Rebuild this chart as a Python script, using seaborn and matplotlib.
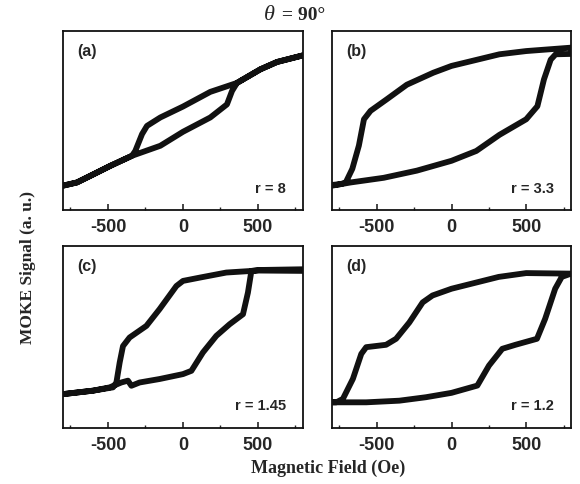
import numpy as np
import pandas as pd
import matplotlib
matplotlib.use('Agg')
import matplotlib.pyplot as plt
import seaborn as sns

# ---- data (field in Oe, signal normalised to panel height) ----
a_up_x = [-800, -707, -596, -484, -340, -151, 0, 182, 293, 327, 360, 516, 627, 800]
a_up_y = [0.136, 0.154, 0.2, 0.247, 0.303, 0.359, 0.437, 0.517, 0.59, 0.665, 0.71, 0.786, 0.827, 0.864]
a_dn_x = [800, 627, 516, 360, 182, 0, -151, -240, -273, -318, -340, -484, -596, -707, -800]
a_dn_y = [0.864, 0.827, 0.786, 0.71, 0.66, 0.578, 0.517, 0.47, 0.424, 0.33, 0.303, 0.247, 0.2, 0.154, 0.136]

b_up_x = [-800, -675, -454, -232, 0, 166, 321, 500, 575, 619, 664, 697, 800]
b_up_y = [0.136, 0.154, 0.18, 0.22, 0.275, 0.33, 0.42, 0.507, 0.58, 0.73, 0.84, 0.87, 0.872]
b_dn_x = [800, 500, 321, 0, -122, -299, -431, -542, -586, -620, -664, -708, -741, -800]
b_dn_y = [0.907, 0.888, 0.87, 0.805, 0.767, 0.70, 0.62, 0.554, 0.507, 0.36, 0.23, 0.154, 0.145, 0.14]

c_up_x = [-800, -600, -489, -411, -367, -344, -289, -156, 0, 56, 133, 222, 311, 400, 433, 456, 511, 800]
c_up_y = [0.186, 0.205, 0.223, 0.25, 0.26, 0.232, 0.25, 0.269, 0.296, 0.314, 0.415, 0.506, 0.57, 0.625, 0.744, 0.863, 0.868, 0.872]
c_dn_x = [800, 500, 289, 111, 0, -44, -156, -244, -356, -400, -422, -444, -467, -600, -800]
c_dn_y = [0.863, 0.865, 0.854, 0.826, 0.808, 0.78, 0.653, 0.561, 0.497, 0.45, 0.36, 0.25, 0.223, 0.205, 0.186]

d_up_x = [-800, -571, -349, -171, 0, 173, 251, 340, 428, 572, 627, 694, 738, 800]
d_up_y = [0.141, 0.141, 0.15, 0.169, 0.193, 0.233, 0.343, 0.435, 0.457, 0.49, 0.6, 0.765, 0.83, 0.848]
d_dn_x = [800, 500, 316, 0, -127, -193, -282, -371, -438, -571, -604, -660, -727, -771, -800]
d_dn_y = [0.848, 0.851, 0.83, 0.765, 0.728, 0.69, 0.58, 0.49, 0.457, 0.444, 0.407, 0.27, 0.16, 0.141, 0.141]

panel_labels = ['(a)', '(b)', '(c)', '(d)']
r_labels = ['r = 8', 'r = 3.3', 'r = 1.45', 'r = 1.2']
xticks = [-500, 0, 500]
minor_xticks = [-750, -250, 250, 750]

sns.set_style('white')
plt.rcParams['font.family'] = ['Liberation Sans', 'DejaVu Sans']
plt.rcParams['font.weight'] = 'bold'

fig = plt.figure(figsize=(5.8, 4.85), dpi=100)

# axes boxes in figure fractions
boxes = [
    [0.1086, 0.5649, 0.4138, 0.3691],
    [0.5724, 0.5649, 0.4121, 0.3691],
    [0.1086, 0.1155, 0.4138, 0.3753],
    [0.5724, 0.1155, 0.4121, 0.3753],
]
loops = [
    (a_up_x, a_up_y, a_dn_x, a_dn_y),
    (b_up_x, b_up_y, b_dn_x, b_dn_y),
    (c_up_x, c_up_y, c_dn_x, c_dn_y),
    (d_up_x, d_up_y, d_dn_x, d_dn_y),
]

for i, (box, loop) in enumerate(zip(boxes, loops)):
    ax = fig.add_axes(box)
    ux, uy, dx, dy = loop
    df = pd.DataFrame({'H': list(ux) + list(dx), 'M': list(uy) + list(dy)})
    sns.lineplot(data=df, x='H', y='M', sort=False, estimator=None, ax=ax,
                 color='#111111', linewidth=4.2, solid_joinstyle='round',
                 solid_capstyle='round')
    ax.set_xlim(-800, 800)
    ax.set_ylim(0, 1)
    ax.set_xlabel('')
    ax.set_ylabel('')
    ax.set_yticks([])
    ax.set_xticks(xticks)
    ax.set_xticks(minor_xticks, minor=True)
    ax.set_xticklabels(['-500', '0', '500'], fontsize=13, fontweight='bold')
    ax.tick_params(axis='x', which='major', direction='in', length=4, width=1.2,
                   pad=6, bottom=True, top=False)
    ax.tick_params(axis='x', which='minor', direction='in', length=2.5, width=1.0,
                   bottom=True, top=False)
    for sp in ax.spines.values():
        sp.set_linewidth(1.3)
        sp.set_color('#111111')
    ax.text(0.06, 0.89, panel_labels[i], transform=ax.transAxes, fontsize=11.5,
            fontweight='bold', ha='left', va='center')
    ax.text(0.93, 0.125, r_labels[i], transform=ax.transAxes, fontsize=10.5,
            fontweight='bold', ha='right', va='center')

serif = ['Liberation Serif', 'DejaVu Serif']
fig.text(0.474, 0.968, 'θ', fontsize=16, ha='right', va='center', family=serif,
         style='italic', fontweight='normal')
fig.text(0.478, 0.968, ' = 90°', fontsize=14, ha='left', va='center',
         family=serif, fontweight='bold')
fig.text(0.048, 0.448, 'MOKE Signal (a. u.)', rotation=90, fontsize=12.5,
         ha='center', va='center', family=serif, fontweight='bold')
fig.text(0.565, 0.035, 'Magnetic Field (Oe)', fontsize=13, ha='center', va='center',
         family=serif, fontweight='bold')

fig.savefig('out.png', dpi=100)
